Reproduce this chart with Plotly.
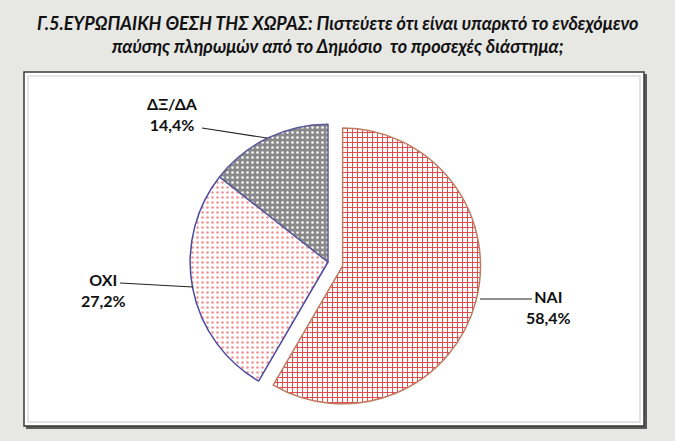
import plotly.graph_objects as go

# ---- data ----
categories = ["ΝΑΙ", "ΟΧΙ", "ΔΞ/ΔΑ"]
values = [58.4, 27.2, 14.4]
value_labels = ["58,4%", "27,2%", "14,4%"]

title_lines = [
    "Γ.5.ΕΥΡΩΠΑΙΚΗ ΘΕΣΗ ΤΗΣ ΧΩΡΑΣ: Πιστεύετε ότι είναι υπαρκτό το ενδεχόμενο",
    "παύσης πληρωμών από το Δημόσιο  το προσεχές διάστημα;",
]

W, H = 675, 441


def px(x):
    return x / W


def py(y):
    return 1 - y / H


fig = go.Figure()
fig.add_trace(go.Pie(
    labels=categories,
    values=values,
    sort=False,
    direction="clockwise",
    rotation=0,
    pull=[0.11, 0, 0],
    textinfo="none",
    hoverinfo="label+percent",
    showlegend=False,
    domain=dict(x=[px(175), px(481)], y=[py(415), py(109)]),
    marker=dict(
        colors=["#ffffff", "#ffffff", "#8a8a8a"],
        line=dict(color=["#c07a60", "#4a4aa0", "#5a5a9a"], width=1.5),
        pattern=dict(
            shape=["+", ".", "."],
            fgcolor=["#e04848", "#f09090", "#ffffff"],
            bgcolor=["#ffffff", "#ffffff", "#8a8a8a"],
            size=[5, 5, 5],
            solidity=[0.35, 0.2, 0.2],
            fillmode="replace",
        ),
    ),
))

shapes = [
    # panel shadow
    dict(type="rect", xref="paper", yref="paper",
         x0=px(26), x1=px(647), y0=py(429), y1=py(74),
         fillcolor="#5a5a5a", line=dict(width=0), layer="below"),
    # panel
    dict(type="rect", xref="paper", yref="paper",
         x0=px(24), x1=px(644), y0=py(426), y1=py(72),
         fillcolor="#ffffff", line=dict(color="#3a3a3a", width=1.5), layer="below"),
    # inner light frame
    dict(type="rect", xref="paper", yref="paper",
         x0=px(28), x1=px(640), y0=py(422), y1=py(76),
         fillcolor="rgba(0,0,0,0)", line=dict(color="#dcdcdc", width=1.5), layer="below"),
]

# leader lines (label side -> slice edge)
leaders = [
    ((480, 299), (532, 299)),   # ΝΑΙ
    ((120, 283), (193, 287)),   # ΟΧΙ
    ((202, 128), (267, 138)),   # ΔΞ/ΔΑ
]
for (x0, y0), (x1, y1) in leaders:
    shapes.append(dict(type="line", xref="paper", yref="paper",
                       x0=px(x0), y0=py(y0), x1=px(x1), y1=py(y1),
                       line=dict(color="#222222", width=1.2)))

label_pos = [(548, 307), (103, 290), (172, 114)]
annotations = []
for (cx, cy), cat, vl in zip(label_pos, categories, value_labels):
    annotations.append(dict(
        xref="paper", yref="paper", x=px(cx), y=py(cy),
        text=f"<b>{cat}<br>{vl}</b>", showarrow=False,
        xanchor="center", yanchor="middle", align="center",
        font=dict(family="Lato, Open Sans, sans-serif", size=16, color="#111111"),
    ))

annotations.append(dict(
    xref="paper", yref="paper", x=0.5, y=py(35),
    text="<b><i>" + "<br>".join(title_lines) + "</i></b>",
    showarrow=False, xanchor="center", yanchor="middle", align="center",
    font=dict(family="Lato, Open Sans, sans-serif", size=18, color="#111111"),
))

fig.update_layout(
    width=W, height=H,
    margin=dict(l=0, r=0, t=0, b=0),
    paper_bgcolor="#e7e7e4",
    plot_bgcolor="#e7e7e4",
    shapes=shapes,
    annotations=annotations,
)

fig.write_html(
    "out.html",
    config={"displayModeBar": False},
    post_script="document.body.style.margin='0';document.body.style.padding='0';",
)
